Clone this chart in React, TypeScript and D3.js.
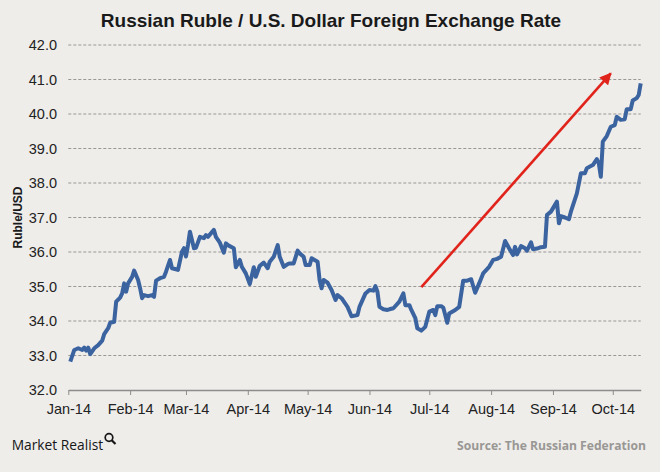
import React, { useEffect, useRef } from 'react';
import * as d3 from 'd3';

// daily RUB per USD
const dates = [
  '2014-01-02', '2014-01-04', '2014-01-06', '2014-01-08', '2014-01-09', '2014-01-10', '2014-01-11', '2014-01-12',
  '2014-01-14', '2014-01-16', '2014-01-18', '2014-01-19', '2014-01-21', '2014-01-22', '2014-01-24', '2014-01-25',
  '2014-01-27', '2014-01-28', '2014-01-29', '2014-01-30', '2014-01-31', '2014-02-02', '2014-02-03', '2014-02-05',
  '2014-02-06', '2014-02-07', '2014-02-08', '2014-02-10', '2014-02-12', '2014-02-13', '2014-02-14', '2014-02-16',
  '2014-02-18', '2014-02-19', '2014-02-21', '2014-02-22', '2014-02-24', '2014-02-25', '2014-02-27', '2014-02-28',
  '2014-03-01', '2014-03-02', '2014-03-03', '2014-03-05', '2014-03-06', '2014-03-08', '2014-03-10', '2014-03-11',
  '2014-03-12', '2014-03-15', '2014-03-16', '2014-03-18', '2014-03-20', '2014-03-21', '2014-03-22', '2014-03-25',
  '2014-03-26', '2014-03-28', '2014-03-29', '2014-03-31', '2014-04-02', '2014-04-04', '2014-04-05', '2014-04-07',
  '2014-04-09', '2014-04-11', '2014-04-12', '2014-04-14', '2014-04-16', '2014-04-17', '2014-04-19', '2014-04-21',
  '2014-04-22', '2014-04-24', '2014-04-26', '2014-04-27', '2014-04-29', '2014-04-30', '2014-05-02', '2014-05-03',
  '2014-05-06', '2014-05-07', '2014-05-08', '2014-05-09', '2014-05-11', '2014-05-13', '2014-05-15', '2014-05-16',
  '2014-05-18', '2014-05-21', '2014-05-23', '2014-05-26', '2014-05-27', '2014-05-30', '2014-06-01', '2014-06-03',
  '2014-06-04', '2014-06-05', '2014-06-06', '2014-06-08', '2014-06-10', '2014-06-11', '2014-06-13', '2014-06-16',
  '2014-06-18', '2014-06-19', '2014-06-21', '2014-06-22', '2014-06-24', '2014-06-25', '2014-06-27', '2014-06-29',
  '2014-07-01', '2014-07-03', '2014-07-04', '2014-07-05', '2014-07-07', '2014-07-08', '2014-07-10', '2014-07-11',
  '2014-07-14', '2014-07-16', '2014-07-18', '2014-07-20', '2014-07-22', '2014-07-24', '2014-07-26', '2014-07-28',
  '2014-07-31', '2014-08-02', '2014-08-04', '2014-08-06', '2014-08-08', '2014-08-10', '2014-08-12', '2014-08-13',
  '2014-08-14', '2014-08-16', '2014-08-18', '2014-08-19', '2014-08-21', '2014-08-22', '2014-08-24', '2014-08-26',
  '2014-08-28', '2014-08-29', '2014-08-31', '2014-09-03', '2014-09-04', '2014-09-05', '2014-09-07', '2014-09-09',
  '2014-09-10', '2014-09-13', '2014-09-15', '2014-09-17', '2014-09-18', '2014-09-20', '2014-09-21', '2014-09-23',
  '2014-09-24', '2014-09-25', '2014-09-26', '2014-09-28', '2014-09-30', '2014-10-02', '2014-10-03', '2014-10-05',
  '2014-10-07', '2014-10-08', '2014-10-10', '2014-10-11', '2014-10-13', '2014-10-14', '2014-10-15',
];

const rates = [
  32.82, 33.16, 33.21, 33.16, 33.23, 33.14, 33.23, 33.04,
  33.21, 33.30, 33.43, 33.62, 33.79, 33.95, 33.98, 34.56,
  34.68, 34.80, 35.09, 34.85, 35.09, 35.28, 35.46, 35.19,
  34.95, 34.66, 34.75, 34.72, 34.75, 34.70, 35.17, 35.24,
  35.28, 35.43, 35.77, 35.53, 35.50, 35.48, 36.01, 36.11,
  35.87, 36.20, 36.59, 36.11, 36.12, 36.44, 36.40, 36.49,
  36.44, 36.64, 36.44, 36.27, 35.98, 36.25, 36.20, 36.11,
  35.56, 35.77, 35.57, 35.38, 35.07, 35.56, 35.28, 35.60,
  35.69, 35.53, 35.72, 35.86, 36.20, 35.86, 35.57, 35.65,
  35.67, 35.67, 36.04, 35.96, 35.86, 35.62, 35.62, 35.82,
  35.72, 35.19, 34.95, 35.19, 35.11, 34.90, 34.61, 34.75,
  34.66, 34.41, 34.14, 34.17, 34.41, 34.80, 34.90, 34.88,
  35.01, 34.85, 34.41, 34.34, 34.32, 34.34, 34.37, 34.56,
  34.80, 34.46, 34.46, 34.32, 34.08, 33.79, 33.72, 33.83,
  34.27, 34.32, 34.17, 34.43, 34.43, 34.39, 33.95, 34.22,
  34.32, 34.41, 35.17, 35.17, 35.21, 34.82, 35.09, 35.38,
  35.57, 35.77, 35.80, 35.86, 36.32, 36.11, 35.91, 36.15,
  35.93, 36.17, 36.11, 36.04, 36.28, 36.08, 36.10, 36.14,
  36.15, 37.07, 37.17, 37.46, 36.83, 37.04, 37.00, 36.95,
  37.17, 37.70, 38.28, 38.28, 38.43, 38.49, 38.52, 38.69,
  38.57, 38.18, 39.20, 39.36, 39.63, 39.68, 39.92, 39.83,
  39.85, 40.14, 40.14, 40.39, 40.46, 40.55, 40.89,
];

const yTicks = [32, 33, 34, 35, 36, 37, 38, 39, 40, 41, 42];
const monthTicks = [
  '2014-01-01', '2014-02-01', '2014-03-01', '2014-04-01', '2014-05-01',
  '2014-06-01', '2014-07-01', '2014-08-01', '2014-09-01', '2014-10-01',
];
const dateRange = ['2014-01-01', '2014-10-15'];

// red trend arrow, in data units
const arrowDates = ['2014-06-27', '2014-09-30'];
const arrowRates = [34.98, 41.18];

const title = 'Russian Ruble / U.S. Dollar Foreign Exchange Rate';
const yLabel = 'Ruble/USD';
const brand = 'Market Realist';
const source = 'Source: The Russian Federation';

const W = 660;
const H = 472;

export default function App() {
  const ref = useRef<SVGSVGElement>(null);

  useEffect(() => {
    const svg = d3.select(ref.current);
    svg.selectAll('*').remove();

    const x = d3.scaleUtc()
      .domain(dateRange.map(d => new Date(d)))
      .range([68.3, 640.7]);
    const y = d3.scaleLinear()
      .domain([32, 42])
      .range([390, 45]);

    svg.append('rect')
      .attr('width', W)
      .attr('height', H)
      .attr('fill', '#eeedea');

    // title
    svg.append('text')
      .attr('x', 331)
      .attr('y', 27)
      .attr('text-anchor', 'middle')
      .attr('font-family', '"Liberation Sans", Arial, sans-serif')
      .attr('font-weight', 'bold')
      .attr('font-size', 19)
      .attr('fill', '#1a1a1a')
      .text(title);

    // dashed grid
    svg.append('g')
      .selectAll('line')
      .data(yTicks.filter(t => t > 32))
      .enter()
      .append('line')
      .attr('x1', 68.3)
      .attr('x2', 640.7)
      .attr('y1', d => y(d))
      .attr('y2', d => y(d))
      .attr('stroke', '#9a9896')
      .attr('stroke-width', 1)
      .attr('stroke-dasharray', '3,2');

    // y labels
    svg.append('g')
      .selectAll('text')
      .data(yTicks)
      .enter()
      .append('text')
      .attr('x', 57)
      .attr('y', d => y(d) + 5)
      .attr('text-anchor', 'end')
      .attr('font-family', '"Liberation Sans", Arial, sans-serif')
      .attr('font-size', 14.5)
      .attr('fill', '#222')
      .text(d => d.toFixed(1));

    svg.append('text')
      .attr('transform', 'translate(22,217.5) rotate(-90)')
      .attr('text-anchor', 'middle')
      .attr('font-family', '"Liberation Sans", Arial, sans-serif')
      .attr('font-weight', 'bold')
      .attr('font-size', 12)
      .attr('fill', '#1a1a1a')
      .text(yLabel);

    // x axis
    const xAxis = d3.axisBottom(x)
      .tickValues(monthTicks.map(d => new Date(d)))
      .tickFormat(d => d3.utcFormat('%b-%y')(d as Date))
      .tickSize(5)
      .tickSizeOuter(0)
      .tickPadding(9);

    const gx = svg.append('g')
      .attr('transform', `translate(0,${y(32)})`)
      .call(xAxis);
    gx.select('.domain').attr('stroke', '#8e8c8a').attr('stroke-width', 1.3);
    gx.selectAll('.tick line').attr('stroke', '#8e8c8a');
    gx.selectAll('.tick text')
      .attr('font-family', '"Liberation Sans", Arial, sans-serif')
      .attr('font-size', 14.5)
      .attr('fill', '#222');

    // rate line
    const points = dates.map((d, i) => [new Date(d), rates[i]] as [Date, number]);
    const line = d3.line<[Date, number]>()
      .x(d => x(d[0]))
      .y(d => y(d[1]));

    svg.append('path')
      .datum(points)
      .attr('d', line)
      .attr('fill', 'none')
      .attr('stroke', '#3b63a0')
      .attr('stroke-width', 4)
      .attr('stroke-linejoin', 'round');

    // trend arrow
    svg.append('defs')
      .append('marker')
      .attr('id', 'head')
      .attr('viewBox', '0 0 10 10')
      .attr('refX', 9)
      .attr('refY', 5)
      .attr('markerWidth', 5)
      .attr('markerHeight', 4.6)
      .attr('markerUnits', 'strokeWidth')
      .attr('orient', 'auto')
      .append('path')
      .attr('d', 'M0,0L10,5L0,10Z')
      .attr('fill', '#e1241b');

    svg.append('line')
      .attr('x1', x(new Date(arrowDates[0])))
      .attr('y1', y(arrowRates[0]))
      .attr('x2', x(new Date(arrowDates[1])))
      .attr('y2', y(arrowRates[1]))
      .attr('stroke', '#e1241b')
      .attr('stroke-width', 2.6)
      .attr('marker-end', 'url(#head)');

    // footer
    svg.append('text')
      .attr('x', 11.7)
      .attr('y', 450)
      .attr('font-family', '"Open Sans", "Noto Sans", sans-serif')
      .attr('font-size', 15)
      .attr('textLength', 91.5)
      .attr('lengthAdjust', 'spacingAndGlyphs')
      .attr('fill', '#161616')
      .text(brand);

    const lens = svg.append('g').attr('fill', 'none').attr('stroke', '#161616');
    lens.append('circle').attr('cx', 109).attr('cy', 437.5).attr('r', 3.8).attr('stroke-width', 1.7);
    lens.append('line').attr('x1', 111.7).attr('y1', 440.3).attr('x2', 115.5).attr('y2', 444)
      .attr('stroke-width', 2.2);

    svg.append('text')
      .attr('x', 646)
      .attr('y', 449.5)
      .attr('text-anchor', 'end')
      .attr('font-family', '"Open Sans", "Noto Sans", sans-serif')
      .attr('font-weight', 'bold')
      .attr('font-size', 13)
      .attr('textLength', 189)
      .attr('lengthAdjust', 'spacingAndGlyphs')
      .attr('fill', '#999794')
      .text(source);
  }, []);

  return (
    <svg
      ref={ref}
      width={W}
      height={H}
      style={{ position: 'absolute', left: 0, top: 0, display: 'block' }}
    />
  );
}
